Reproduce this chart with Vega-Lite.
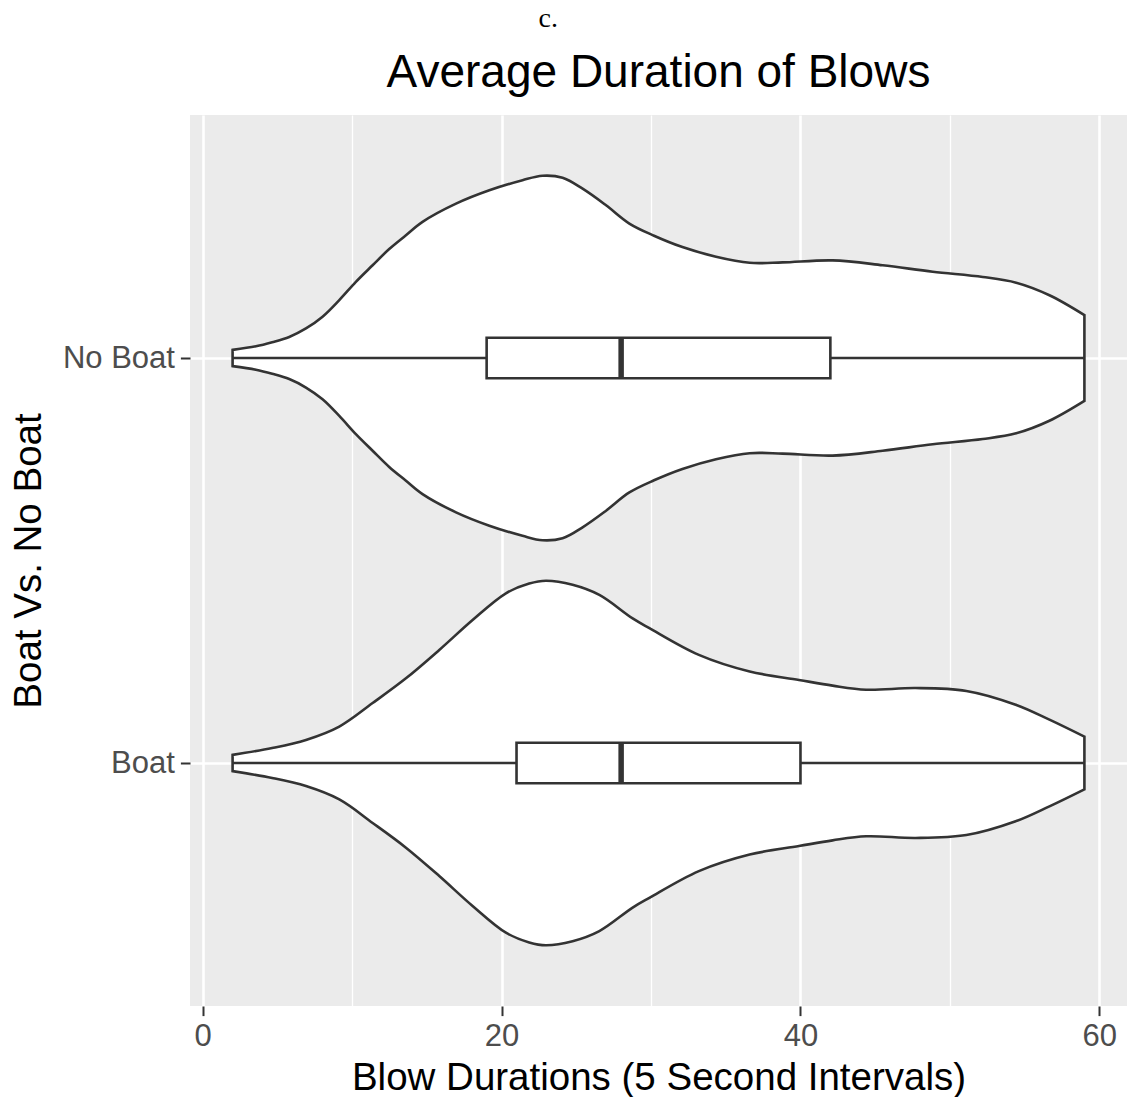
{
  "$schema": "https://vega.github.io/schema/vega-lite/v6.json",
  "background": "white",
  "padding": {"left": 9, "top": 5, "right": 0, "bottom": 5},
  "config": {"font": "Liberation Sans", "view": {"fill": "#EBEBEB", "stroke": null}},
  "title": {"text": "c.", "font": "Liberation Serif", "fontSize": 28, "fontWeight": "normal", "color": "black", "anchor": "middle", "frame": "bounds", "offset": 17, "dx": -20},
  "datasets": {
    "violin": [
      {"group": "No Boat", "value": 2.0, "density": 0.020},
      {"group": "No Boat", "value": 3.56, "density": 0.029},
      {"group": "No Boat", "value": 4.65, "density": 0.039},
      {"group": "No Boat", "value": 5.79, "density": 0.052},
      {"group": "No Boat", "value": 6.91, "density": 0.073},
      {"group": "No Boat", "value": 8.02, "density": 0.102},
      {"group": "No Boat", "value": 9.14, "density": 0.143},
      {"group": "No Boat", "value": 10.25, "density": 0.188},
      {"group": "No Boat", "value": 11.37, "density": 0.229},
      {"group": "No Boat", "value": 12.48, "density": 0.269},
      {"group": "No Boat", "value": 13.6, "density": 0.303},
      {"group": "No Boat", "value": 14.71, "density": 0.336},
      {"group": "No Boat", "value": 16.95, "density": 0.381},
      {"group": "No Boat", "value": 19.18, "density": 0.414},
      {"group": "No Boat", "value": 21.4, "density": 0.439},
      {"group": "No Boat", "value": 22.74, "density": 0.450},
      {"group": "No Boat", "value": 24.08, "density": 0.445},
      {"group": "No Boat", "value": 25.42, "density": 0.418},
      {"group": "No Boat", "value": 26.99, "density": 0.377},
      {"group": "No Boat", "value": 28.55, "density": 0.332},
      {"group": "No Boat", "value": 30.2, "density": 0.302},
      {"group": "No Boat", "value": 32.1, "density": 0.274},
      {"group": "No Boat", "value": 34.35, "density": 0.250},
      {"group": "No Boat", "value": 36.6, "density": 0.235},
      {"group": "No Boat", "value": 38.8, "density": 0.236},
      {"group": "No Boat", "value": 42.15, "density": 0.241},
      {"group": "No Boat", "value": 45.5, "density": 0.229},
      {"group": "No Boat", "value": 48.85, "density": 0.213},
      {"group": "No Boat", "value": 52.2, "density": 0.200},
      {"group": "No Boat", "value": 54.43, "density": 0.186},
      {"group": "No Boat", "value": 56.66, "density": 0.155},
      {"group": "No Boat", "value": 59.0, "density": 0.106},
      {"group": "Boat", "value": 2.0, "density": 0.020},
      {"group": "Boat", "value": 4.65, "density": 0.037},
      {"group": "Boat", "value": 6.91, "density": 0.057},
      {"group": "Boat", "value": 9.14, "density": 0.090},
      {"group": "Boat", "value": 11.37, "density": 0.148},
      {"group": "Boat", "value": 13.6, "density": 0.209},
      {"group": "Boat", "value": 15.83, "density": 0.279},
      {"group": "Boat", "value": 18.06, "density": 0.353},
      {"group": "Boat", "value": 20.29, "density": 0.419},
      {"group": "Boat", "value": 21.85, "density": 0.443},
      {"group": "Boat", "value": 22.97, "density": 0.450},
      {"group": "Boat", "value": 24.75, "density": 0.440},
      {"group": "Boat", "value": 26.54, "density": 0.415},
      {"group": "Boat", "value": 28.77, "density": 0.357},
      {"group": "Boat", "value": 29.89, "density": 0.333},
      {"group": "Boat", "value": 33.2, "density": 0.267},
      {"group": "Boat", "value": 36.6, "density": 0.226},
      {"group": "Boat", "value": 39.9, "density": 0.205},
      {"group": "Boat", "value": 42.15, "density": 0.191},
      {"group": "Boat", "value": 44.4, "density": 0.181},
      {"group": "Boat", "value": 47.7, "density": 0.185},
      {"group": "Boat", "value": 51.1, "density": 0.178},
      {"group": "Boat", "value": 54.4, "density": 0.144},
      {"group": "Boat", "value": 56.66, "density": 0.107},
      {"group": "Boat", "value": 59.0, "density": 0.065}
    ],
    "box": [
      {"group": "No Boat", "min": 2, "q1": 19, "median": 28, "q3": 42, "max": 59},
      {"group": "Boat", "min": 2, "q1": 21, "median": 28, "q3": 40, "max": 59}
    ]
  },
  "vconcat": [
    {
      "width": 937,
      "height": 891,
      "title": {"text": "Average Duration of Blows", "font": "Liberation Sans", "fontSize": 46, "fontWeight": "normal", "color": "black", "anchor": "middle", "offset": 18},
      "layer": [
        {
          "data": {"name": "violin"},
          "transform": [
            {"calculate": "datum.group == 'No Boat' ? 2 : 1", "as": "pos"},
            {"calculate": "datum.pos + datum.density", "as": "upper"},
            {"calculate": "datum.pos - datum.density", "as": "lower"}
          ],
          "mark": {"type": "area", "orient": "vertical", "fill": "white", "fillOpacity": 1, "stroke": "#333333", "strokeWidth": 2.6, "interpolate": "catmull-rom"},
          "encoding": {
            "x": {
              "field": "value", "type": "quantitative",
              "scale": {"domain": [-0.85, 61.85], "nice": false, "zero": false},
              "axis": {
                "values": [0, 10, 20, 30, 40, 50, 60],
                "title": "Blow Durations (5 Second Intervals)",
                "titleFontSize": 38.5, "titleFontWeight": "normal", "titleColor": "black", "titlePadding": 8,
                "labelFontSize": 31, "labelColor": "#4D4D4D", "labelPadding": 6, "labelFlush": false, "labelOverlap": false,
                "labelExpr": "datum.value % 20 == 0 ? datum.label : ''",
                "domain": false,
                "tickColor": "#333333", "tickSize": 9.6, "tickWidth": 2,
                "tickOpacity": {"condition": {"test": "datum.value % 20 != 0", "value": 0}, "value": 1},
                "grid": true, "gridColor": "white",
                "gridWidth": {"condition": {"test": "datum.value % 20 != 0", "value": 1.3}, "value": 2.6}
              }
            },
            "y": {
              "field": "upper", "type": "quantitative",
              "scale": {"domain": [0.4, 2.6], "nice": false, "zero": false},
              "axis": {
                "values": [1, 2],
                "labelExpr": "datum.value == 2 ? 'No Boat' : 'Boat'",
                "title": "Boat Vs. No Boat",
                "titleFontSize": 38.5, "titleFontWeight": "normal", "titleColor": "black", "titlePadding": 14,
                "labelFontSize": 31, "labelColor": "#4D4D4D", "labelPadding": 6,
                "domain": false,
                "tickColor": "#333333", "tickSize": 9.6, "tickWidth": 2,
                "grid": true, "gridColor": "white", "gridWidth": 2.6
              }
            },
            "y2": {"field": "lower"},
            "detail": {"field": "group"}
          }
        },
        {
          "data": {"name": "box"},
          "transform": [{"calculate": "datum.group == 'No Boat' ? 2 : 1", "as": "pos"}],
          "mark": {"type": "rule", "color": "#333333", "strokeWidth": 2.6},
          "encoding": {
            "x": {"field": "min", "type": "quantitative"},
            "x2": {"field": "max"},
            "y": {"field": "pos", "type": "quantitative"}
          }
        },
        {
          "data": {"name": "box"},
          "transform": [
            {"calculate": "datum.group == 'No Boat' ? 2 : 1", "as": "pos"},
            {"calculate": "datum.pos + 0.05", "as": "hi"},
            {"calculate": "datum.pos - 0.05", "as": "lo"}
          ],
          "mark": {"type": "rect", "fill": "white", "stroke": "#333333", "strokeWidth": 2.6},
          "encoding": {
            "x": {"field": "q1", "type": "quantitative"},
            "x2": {"field": "q3"},
            "y": {"field": "hi", "type": "quantitative"},
            "y2": {"field": "lo"}
          }
        },
        {
          "data": {"name": "box"},
          "transform": [
            {"calculate": "datum.group == 'No Boat' ? 2 : 1", "as": "pos"},
            {"calculate": "datum.pos + 0.05", "as": "hi"},
            {"calculate": "datum.pos - 0.05", "as": "lo"}
          ],
          "mark": {"type": "rule", "color": "#333333", "strokeWidth": 5.5},
          "encoding": {
            "x": {"field": "median", "type": "quantitative"},
            "y": {"field": "hi", "type": "quantitative"},
            "y2": {"field": "lo"}
          }
        }
      ]
    }
  ]
}
